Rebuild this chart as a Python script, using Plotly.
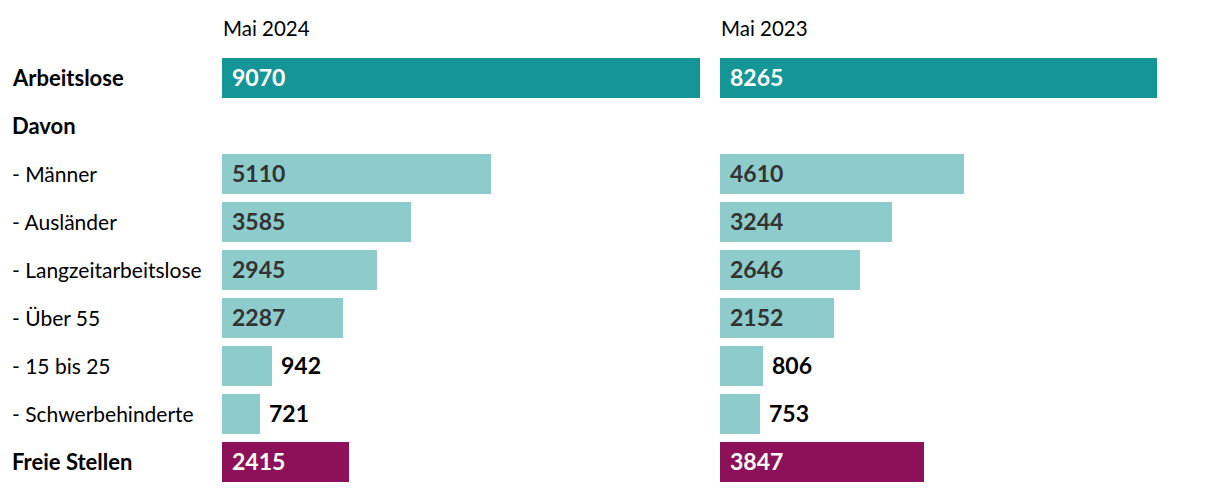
import plotly.graph_objects as go

categories = ["Arbeitslose", "Davon", "- Männer", "- Ausländer", "- Langzeitarbeitslose",
              "- Über 55", "- 15 bis 25", "- Schwerbehinderte", "Freie Stellen"]
bold_rows = ["Arbeitslose", "Davon", "Freie Stellen"]
values_2024 = [9070, None, 5110, 3585, 2945, 2287, 942, 721, 2415]
values_2023 = [8265, None, 4610, 3244, 2646, 2152, 806, 753, 3847]
panel_titles = ["Mai 2024", "Mai 2023"]

TEAL = "#159696"
LIGHT = "#8dcccb"
PURPLE = "#8c1159"
row_colors = [TEAL, TEAL, LIGHT, LIGHT, LIGHT, LIGHT, LIGHT, LIGHT, PURPLE]
row_text_colors = ["#ffffff", "#ffffff", "#333333", "#333333", "#333333", "#333333",
                   "#333333", "#333333", "#ffffff"]

FONT = "Lato, 'Open Sans', sans-serif"
OFF = 8  # page body margin
W, H = 1220 - 2 * OFF, 494 - 2 * OFF
XMAX = 9070
INSIDE_MIN = 1500


def px(xpix):
    return (xpix - OFF) / W


fig = go.Figure()
annotations = []
for i, (vals, title) in enumerate(zip([values_2024, values_2023], panel_titles)):
    xa = "x" if i == 0 else "x2"
    ya = "y" if i == 0 else "y2"
    fig.add_trace(go.Bar(
        x=vals, y=categories, orientation="h",
        marker=dict(color=row_colors, line=dict(width=0)),
        width=0.83, xaxis=xa, yaxis=ya, hoverinfo="x+y", showlegend=False,
    ))
    for cat, v, tc in zip(categories, vals, row_text_colors):
        if v is None:
            continue
        inside = v >= INSIDE_MIN
        annotations.append(dict(
            x=0 if inside else v, y=cat, xref=xa, yref=ya,
            text=f"<b>{v}</b>", showarrow=False, xanchor="left", yanchor="middle",
            xshift=8 if inside else 7, yshift=1,
            font=dict(family=FONT, size=23, color=tc if inside else "#000000"),
        ))
    annotations.append(dict(
        x=0, y=1, xref=f"{xa} domain", yref="paper", text=title, showarrow=False,
        xanchor="left", yanchor="middle", yshift=26, xshift=-1,
        font=dict(family=FONT, size=20.5, color="#000000"),
    ))

for cat in categories:
    is_bold = cat in bold_rows
    txt = f"<b>{cat}</b>" if is_bold else cat
    annotations.append(dict(
        x=px(12), y=cat, xref="paper", yref="y", text=txt, showarrow=False,
        xanchor="left", yanchor="middle", xshift=-2, yshift=0.5,
        font=dict(family=FONT, size=22 if is_bold else 21, color="#000000"),
    ))

axis_common = dict(showgrid=False, zeroline=False, showticklabels=False, showline=False,
                   ticks="", fixedrange=True)
fig.update_layout(
    width=W, height=H,
    margin=dict(l=0, r=0, t=54 - OFF, b=0),
    paper_bgcolor="white", plot_bgcolor="white",
    xaxis=dict(domain=[px(222), px(700)], range=[0, XMAX], **axis_common),
    xaxis2=dict(domain=[px(720), px(1200)], range=[0, XMAX], anchor="y2", **axis_common),
    yaxis=dict(categoryorder="array", categoryarray=categories, autorange="reversed",
               **axis_common),
    yaxis2=dict(categoryorder="array", categoryarray=categories, autorange="reversed",
                anchor="x2", matches="y", **axis_common),
    annotations=annotations,
    bargap=0,
)

fig.write_html("out.html")
